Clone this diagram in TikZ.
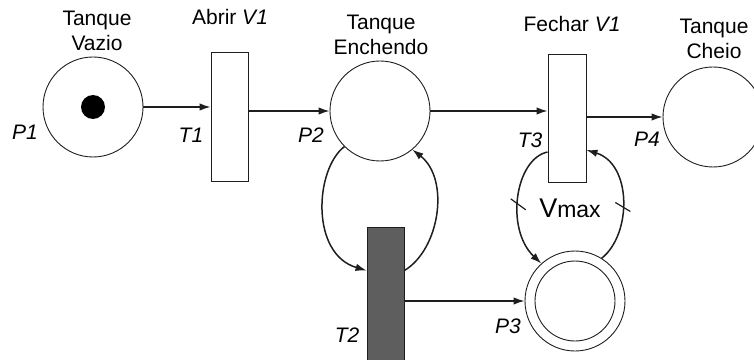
\documentclass[tikz,border=0pt]{standalone}
\usepackage{fontspec}
\setmainfont{Liberation Sans}
\usetikzlibrary{arrows.meta}
\definecolor{inkgray}{HTML}{1E1E1E}
\definecolor{firedgray}{HTML}{5E5E5E}
\tikzset{
  place/.style={circle,draw=inkgray,line width=.9pt,minimum size=100pt,inner sep=0pt},
  trans/.style={rectangle,draw=inkgray,line width=.9pt,inner sep=0pt},
  flow/.style={inkgray,line width=1.5pt,-{Latex[length=11pt,width=7.5pt]}},
  slash/.style={inkgray,line width=1.2pt},
  token/.style={circle,fill=black,inner sep=0pt,minimum size=24pt},
  caption/.style={font=\fontsize{21}{25.5}\selectfont,align=center,inner sep=0pt},
  tag/.style={font=\fontsize{21}{25}\selectfont\itshape,inner sep=0pt,anchor=base}
}
\begin{document}
\begin{tikzpicture}[x=1pt,y=1pt]
\useasboundingbox (0,0) rectangle (754,359);
\node[place] (P1) at (93,252) {};
\node[token] (K1) at (P1) {};
\node[trans,minimum width=37pt,minimum height=129pt] (T1) at (229.5,242.5) {};
\node[place] (P2) at (380,248) {};
\node[trans,minimum width=38pt,minimum height=128pt] (T3) at (567,241) {};
\node[place] (P4) at (713,242) {};
\node[trans,fill=firedgray,minimum width=37pt,minimum height=135pt] (T2) at (385.5,64.5) {};
\node[place] (P3) at (575,58) {};
\node[place,minimum size=80pt] (P3in) at (P3) {};
\draw[flow] (P1) -- (T1.west |- P1);
\draw[flow] (T1.east |- P2) -- (P2);
\draw[flow] (P2) -- (T3.west |- P2);
\draw[flow] (T3.east |- P4) -- (P4);
\draw[flow] (T2.east |- P3) -- (P3);
\draw[flow] (P2.225) .. controls (315,190) and (310,105) .. ([yshift=24pt]T2.west);
\draw[flow] ([yshift=24pt]T2.east) .. controls (440,110) and (450,180) .. (P2.-50);
\draw[flow] ([yshift=-34pt]T3.west) .. controls (515,200) and (505,130) .. coordinate[pos=.55] (S1) (P3.132);
\draw[flow] (P3.58) .. controls (632,125) and (632,195) .. coordinate[pos=.45] (S2) ([yshift=-32pt]T3.east);
\draw[slash] (S1) ++(-7.5,5.5) -- ++(15,-11);
\draw[slash] (S2) ++(-7.5,4.5) -- ++(15,-9);
\node[anchor=base,inner sep=0pt] (Vmax) at (570,142) {\fontsize{27}{27}\selectfont V\fontsize{23}{23}\selectfont max};
\node[caption] (L1) at (97,328) {Tanque\\Vazio};
\node[caption,anchor=base] (L2) at (230,334) {Abrir \textit{V1}};
\node[caption] (L3) at (381,324) {Tanque\\Enchendo};
\node[caption,anchor=base] (L4) at (572,327) {Fechar \textit{V1}};
\node[caption] (L5) at (714,320) {Tanque\\Cheio};
\node[tag] (N1) at (25,219) {P1};
\node[tag] (N2) at (191,216) {T1};
\node[tag] (N3) at (311,216) {P2};
\node[tag] (N4) at (530,211) {T3};
\node[tag] (N5) at (647,212) {P4};
\node[tag] (N6) at (347,17) {T2};
\node[tag] (N7) at (508,26) {P3};
\end{tikzpicture}
\end{document}
